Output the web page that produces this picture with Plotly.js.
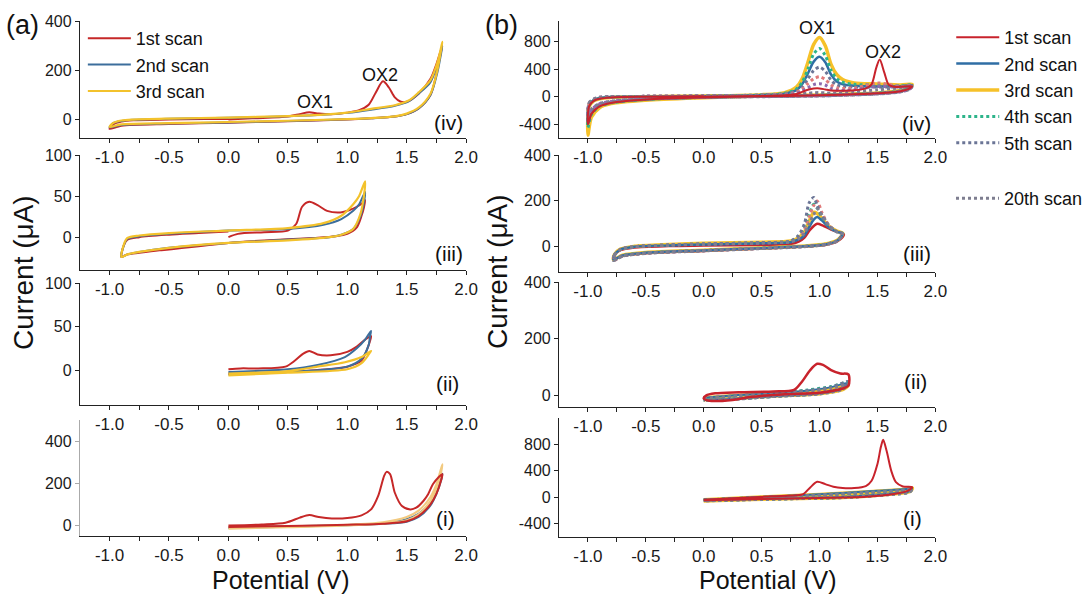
<!DOCTYPE html>
<html><head><meta charset="utf-8">
<script src="https://cdn.plot.ly/plotly-3.0.1.min.js"></script>
<style>html,body{margin:0;padding:0;background:#fff}#chart{width:1088px;height:594px}</style>
</head><body><div id="chart"></div>
<script>
// ---------- tick labels ----------
const X_TICK_VALS = [-1.0,-0.75,-0.5,-0.25,0.0,0.25,0.5,0.75,1.0,1.25,1.5,1.75,2.0];
const X_TICK_TEXT = ['-1.0','','-0.5','','0.0','','0.5','','1.0','','1.5','','2.0'];
const A4_YT = [0,200,400];           const A4_YL = ['0','200','400'];
const A3_YT = [0,50,100];            const A3_YL = ['0','50','100'];
const A2_YT = [0,50,100];            const A2_YL = ['0','50','100'];
const A1_YT = [0,200,400];           const A1_YL = ['0','200','400'];
const B4_YT = [-400,0,400,800];      const B4_YL = ['-400','0','400','800'];
const B3_YT = [0,200,400];           const B3_YL = ['0','200','400'];
const B2_YT = [0,200,400];           const B2_YL = ['0','200','400'];
const B1_YT = [-400,0,400,800];      const B1_YL = ['-400','0','400','800'];
const SCAN_NAMES = ['1st scan','2nd scan','3rd scan','4th scan','5th scan','20th scan'];

// ---------- (a)(iv) ----------
const A4_S1_X = [0.0,0.2,0.5,0.6,0.68,0.76,0.9,1.0,1.1,1.18,1.24,1.3,1.35,1.4,1.45,1.5,1.6,1.7,1.75,1.8,1.78,1.7,1.6,1.5,1.4,1.2,1.0,0.5,0.0,-0.5,-0.9,-1.0,-0.97,-0.9,-0.8,-0.5,-0.2,0.0];
const A4_S1_Y = [0,5,12,22,30,24,22,28,38,60,110,155,130,90,72,72,105,165,225,300,255,100,45,22,12,5,0,-7,-13,-18,-25,-38,-20,-8,-3,0,2,3];
const A4_LOOP_X = [-1.0,-0.97,-0.9,-0.8,-0.5,0.0,0.5,0.8,1.0,1.2,1.4,1.52,1.6,1.7,1.76,1.8,1.79,1.76,1.7,1.6,1.5,1.4,1.2,1.0,0.5,0.0,-0.5,-0.9,-1.0];
const A4_S2_Y = [-32,-15,-6,-1,3,7,13,19,27,40,56,75,105,152,225,300,270,195,100,45,22,12,5,1,-6,-12,-16,-22,-32];
const A4_S3_Y = [-30,-14,-4,0,4,8,14,20,28,43,58,78,110,160,235,315,285,205,105,48,24,13,6,2,-5,-10,-15,-20,-30];

// ---------- (a)(iii) ----------
const A3_S1_X = [0.0,0.08,0.3,0.5,0.57,0.62,0.68,0.75,0.83,0.94,1.02,1.08,1.13,1.15,1.14,1.12,1.08,1.0,0.9,0.72,0.3,0.0,-0.5,-0.58,-0.75,-0.85,-0.9,-0.88,-0.85,-0.75,-0.5,-0.25,0.0];
const A3_S1_Y = [0,4,6,8,16,37,43,39,32,30,33,37,42,45,36,26,12,4,1,-1,-4,-7,-15,-16,-19,-21,-24,-10,-3,0,3,5,7];
const A3_LOOP_X = [-0.9,-0.88,-0.85,-0.75,-0.5,0.0,0.5,0.8,0.95,1.05,1.1,1.15,1.14,1.11,1.05,0.95,0.85,0.5,0.0,-0.5,-0.75,-0.85,-0.9];
const A3_S2_Y = [-24,-10,-2,1,4,8,10,15,22,32,40,55,42,25,10,3,0,-3,-7,-13,-18,-21,-24];
const A3_S3_Y = [-24,-9,-1,2,5,8,11,17,26,40,50,68,50,28,10,3,0,-4,-7,-13,-18,-21,-24];

// ---------- (a)(ii) ----------
const A2_S1_X = [0.0,0.1,0.25,0.48,0.56,0.63,0.68,0.75,0.86,1.0,1.08,1.15,1.2,1.19,1.17,1.12,1.0,0.73,0.3,0.0];
const A2_S1_Y = [1,2,2,4,11,19,22,18,17,21,27,35,39,33,25,11,4,0,-3,-4];
const A2_S2_X = [0.0,0.5,0.75,0.98,1.08,1.15,1.2,1.19,1.18,1.12,1.0,0.5,0.0];
const A2_S2_Y = [-2,1,6,15,25,35,45,38,29,13,4,-2,-5];
const A2_S3_X = [0.0,0.5,0.75,0.98,1.12,1.2,1.19,1.18,1.12,1.0,0.5,0.0];
const A2_S3_Y = [-4,-1,4,9,15,22,20,18,8,1,-3,-6];

// ---------- (a)(i) ----------
const A1_S1_X = [0.0,0.28,0.48,0.6,0.68,0.76,0.87,1.0,1.12,1.2,1.26,1.31,1.33,1.36,1.4,1.46,1.53,1.58,1.64,1.68,1.72,1.77,1.8,1.79,1.75,1.7,1.6,1.5,1.3,1.0,0.5,0.0];
const A1_S1_Y = [0,5,13,37,49,40,33,35,48,76,140,235,254,243,155,92,76,84,116,148,195,230,243,215,150,100,45,20,8,3,-3,-7];
const A1_LOOP_X = [0.0,0.5,1.0,1.3,1.5,1.6,1.7,1.75,1.8,1.79,1.75,1.7,1.6,1.5,1.3,1.0,0.5,0.0];
const A1_S2_Y = [-8,-4,2,10,30,55,110,165,245,215,150,95,40,18,8,1,-6,-12];
const A1_S3_Y = [-10,-5,3,15,40,70,135,195,290,255,175,115,52,25,10,0,-8,-15];

// ---------- (b)(iv) ----------
const B4_S1_X = [0.0,0.5,0.7,0.8,0.85,0.9,0.95,1.0,1.05,1.1,1.2,1.3,1.4,1.45,1.49,1.52,1.56,1.6,1.67,1.8,1.78,1.7,1.5,1.2,1.0,0.5,0.0,-0.5,-0.8,-0.9,-0.97,-1.0,-0.99,-0.95,-0.9,-0.8,-0.5,0.0];
const B4_S1_Y = [0,10,20,40,70,100,118,120,105,90,88,92,120,180,420,540,350,170,140,150,120,80,50,30,20,5,-10,-40,-90,-140,-250,-400,-140,-60,-30,-10,0,5];
const B4_LOOP_X = [-1.0,-0.99,-0.95,-0.9,-0.8,-0.5,0.0,0.5,0.7,0.8,0.85,0.9,0.95,1.0,1.05,1.1,1.15,1.2,1.3,1.5,1.7,1.8,1.78,1.7,1.5,1.2,1.0,0.5,0.0,-0.5,-0.8,-0.9,-0.97,-1.0];
const B4_S2_Y = [-400,-120,-50,-20,-5,0,8,25,45,95,180,340,510,580,500,320,220,180,160,150,150,165,125,80,50,30,20,5,-10,-40,-85,-130,-240,-400];
const B4_S3_Y = [-560,-150,-60,-30,-10,0,10,30,60,140,260,500,760,860,740,470,320,250,200,185,170,180,140,90,55,35,25,10,-15,-50,-100,-160,-300,-560];
const B4_S4_Y = [-450,-130,-55,-25,-5,0,8,25,50,110,210,400,620,700,600,380,260,210,180,170,160,170,130,85,50,30,20,8,-10,-40,-90,-140,-260,-450];
const B4_S5_Y = [-380,-110,-45,-15,0,5,10,25,40,80,140,260,380,430,370,240,170,150,140,140,145,160,120,80,45,28,18,5,-8,-35,-80,-120,-220,-380];
const B4_S8_Y = [-330,-100,-40,-10,0,5,10,20,35,65,110,190,260,290,250,170,130,120,125,200,150,160,115,75,45,25,15,5,-8,-30,-70,-110,-200,-330];
const B4_S12_Y = [-310,-95,-38,-9,0,5,10,18,28,50,80,130,175,190,170,120,95,90,100,150,140,155,112,72,42,22,12,3,-9,-30,-68,-105,-190,-310];
const B4_S20_Y = [-300,-90,-35,-8,0,5,10,15,20,30,40,50,58,60,55,50,50,55,70,100,130,150,110,70,40,20,10,0,-10,-30,-65,-100,-180,-300];

// ---------- (b)(iii) ----------
const B3_S1_X = [0.0,0.5,0.75,0.82,0.87,0.92,0.98,1.03,1.1,1.18,1.21,1.2,1.15,1.05,0.9,0.5,0.0,-0.5,-0.7,-0.78,-0.77,-0.72,-0.6,-0.3,0.0];
const B3_S1_Y = [5,8,12,22,40,75,100,92,75,62,55,42,22,8,2,-8,-18,-28,-40,-55,-35,-15,-3,3,5];
const B3_LOOP_X = [-0.78,-0.77,-0.72,-0.6,-0.3,0.0,0.5,0.75,0.82,0.87,0.91,0.95,0.98,1.02,1.08,1.15,1.2,1.19,1.15,1.05,0.9,0.5,0.0,-0.5,-0.7,-0.78];
const B3_S2_Y = [-55,-35,-12,0,6,10,15,20,32,50,85,118,130,115,85,65,58,45,25,10,3,-6,-16,-26,-38,-55];
const B3_S3_Y = [-55,-33,-10,2,10,15,20,25,40,65,110,150,145,125,90,68,60,47,27,12,4,-5,-15,-25,-37,-55];
const B3_S4_Y = [-58,-35,-12,0,8,12,18,24,45,80,140,185,170,130,90,66,58,46,26,11,3,-6,-16,-27,-39,-58];
const B3_S5_Y = [-58,-36,-12,0,8,12,18,25,50,100,190,215,180,135,90,65,57,45,25,10,2,-7,-17,-28,-40,-58];
const B3_S8_Y = [-60,-36,-12,0,8,12,18,24,40,75,130,180,200,150,95,65,57,45,25,10,2,-7,-17,-28,-40,-60];
const B3_S20_Y = [-60,-37,-13,0,7,11,16,22,35,60,100,140,165,140,95,65,56,44,24,9,1,-8,-18,-29,-41,-60];

// ---------- (b)(ii) ----------
const B2_S1_X = [0.02,0.1,0.3,0.6,0.78,0.85,0.92,0.98,1.03,1.1,1.18,1.25,1.25,1.2,1.0,0.7,0.4,0.25,0.05,0.0,0.02];
const B2_S1_Y = [0,8,12,15,20,50,90,112,108,90,78,75,35,25,10,5,-5,-15,-18,-10,0];
const B2_LOOP_X = [0.0,0.3,0.6,0.9,1.1,1.25,1.2,1.0,0.6,0.3,0.0];
const B2_S2_Y = [-8,2,8,18,30,45,25,8,-2,-10,-15];
const B2_S3_Y = [-8,2,8,15,25,35,20,6,-2,-10,-15];
const B2_S4_Y = [-10,0,8,20,32,48,27,8,-3,-11,-16];
const B2_S5_Y = [-10,0,8,18,30,50,28,8,-3,-11,-17];
const B2_S20_Y = [-10,0,6,15,25,40,22,6,-3,-12,-17];

// ---------- (b)(i) ----------
const B1_S1_X = [0.0,0.3,0.6,0.8,0.86,0.92,0.98,1.05,1.12,1.2,1.3,1.4,1.45,1.5,1.53,1.55,1.58,1.62,1.66,1.72,1.8,1.79,1.75,1.6,1.4,1.0,0.5,0.0];
const B1_S1_Y = [-35,-10,15,30,50,150,235,200,160,140,140,170,250,500,760,870,700,400,230,165,155,130,90,40,10,-10,-25,-45];
const B1_LOOP_X = [0.0,0.5,1.0,1.5,1.75,1.8,1.78,1.6,1.2,0.8,0.4,0.0];
const B1_S2_Y = [-35,5,45,100,125,145,95,55,5,-15,-30,-45];
const B1_S3_Y = [-40,0,40,90,120,140,90,50,0,-15,-30,-50];
const B1_S4_Y = [-40,0,35,85,115,135,85,45,0,-18,-32,-50];
const B1_S5_Y = [-42,-2,35,85,115,135,85,45,-2,-18,-33,-52];
const B1_S20_Y = [-44,-4,32,80,110,130,80,40,-4,-20,-35,-54];

// ---------- styling ----------
const FONT = "Arial, 'Liberation Sans', sans-serif";
const W = 1088, H = 594;
const CA = {red:'#C62828', blue:'#3C6E9C', yel:'#F3C22C', tan:'#F2CA80'};
const CB = {red:'#C8232C', blue:'#2F6EA5', yel:'#F6C129', green:'#2DB48A', grey:'#6B7596', pink:'#E07A7A', purple:'#8E6BAE', g20:'#7E7E90'};

function hx(a,b){return [a/W,b/W];}
function vy(top,bot){return [1-bot/H,1-top/H];}

const traces = [];
function add(xa, ya, x, y, color, width, dash, opts){
  const t = {type:'scatter', mode:'lines', x:x, y:y, xaxis:xa, yaxis:ya,
    line:{color:color, width:width, dash:dash||'solid', shape:'spline', smoothing:0.8},
    showlegend:false, hoverinfo:'skip'};
  Object.assign(t, opts||{});
  traces.push(t);
}
// (a) panels
add('x','y',A4_S1_X,A4_S1_Y,CA.red,2,null,{name:SCAN_NAMES[0],showlegend:true,legend:'legend',legendrank:1});
add('x','y',A4_LOOP_X,A4_S2_Y,CA.blue,2,null,{name:SCAN_NAMES[1],showlegend:true,legend:'legend',legendrank:2});
add('x','y',A4_LOOP_X,A4_S3_Y,CA.yel,2.2,null,{name:SCAN_NAMES[2],showlegend:true,legend:'legend',legendrank:3});
add('x2','y2',A3_S1_X,A3_S1_Y,CA.red,2);
add('x2','y2',A3_LOOP_X,A3_S2_Y,CA.blue,2);
add('x2','y2',A3_LOOP_X,A3_S3_Y,CA.yel,2.2);
add('x3','y3',A2_S1_X,A2_S1_Y,CA.red,2);
add('x3','y3',A2_S2_X,A2_S2_Y,CA.blue,2);
add('x3','y3',A2_S3_X,A2_S3_Y,CA.yel,2.2);
add('x4','y4',A1_LOOP_X,A1_S2_Y,CA.blue,2);
add('x4','y4',A1_LOOP_X,A1_S3_Y,CA.tan,2.2);
add('x4','y4',A1_S1_X,A1_S1_Y,CA.red,2);
// (b)(iv)
add('x5','y5',B4_LOOP_X,B4_S3_Y,CB.yel,3.5,null,{name:SCAN_NAMES[2],showlegend:true,legend:'legend2',legendrank:3});
add('x5','y5',B4_LOOP_X,B4_S2_Y,CB.blue,2.5,null,{name:SCAN_NAMES[1],showlegend:true,legend:'legend2',legendrank:2});
add('x5','y5',B4_LOOP_X,B4_S4_Y,CB.green,3,'dot',{name:SCAN_NAMES[3],showlegend:true,legend:'legend2',legendrank:4});
add('x5','y5',B4_LOOP_X,B4_S5_Y,CB.grey,3,'dot',{name:SCAN_NAMES[4],showlegend:true,legend:'legend2',legendrank:5});
add('x5','y5',B4_LOOP_X,B4_S8_Y,CB.pink,3,'dot');
add('x5','y5',B4_LOOP_X,B4_S12_Y,CB.purple,3,'dot');
add('x5','y5',B4_LOOP_X,B4_S20_Y,CB.g20,3,'dot',{name:SCAN_NAMES[5],showlegend:true,legend:'legend3',legendrank:6});
add('x5','y5',B4_S1_X,B4_S1_Y,CB.red,2,null,{name:SCAN_NAMES[0],showlegend:true,legend:'legend2',legendrank:1});
// (b)(iii)
add('x6','y6',B3_S1_X,B3_S1_Y,CB.red,2.5);
add('x6','y6',B3_LOOP_X,B3_S3_Y,CB.yel,3.5);
add('x6','y6',B3_LOOP_X,B3_S2_Y,CB.blue,2.5);
add('x6','y6',B3_LOOP_X,B3_S4_Y,CB.green,3,'dot');
add('x6','y6',B3_LOOP_X,B3_S8_Y,CB.pink,3,'dot');
add('x6','y6',B3_LOOP_X,B3_S5_Y,CB.grey,3,'dot');
add('x6','y6',B3_LOOP_X,B3_S20_Y,CB.g20,3,'dot');
// (b)(ii)
add('x7','y7',B2_LOOP_X,B2_S3_Y,CB.yel,3);
add('x7','y7',B2_LOOP_X,B2_S2_Y,CB.blue,2);
add('x7','y7',B2_LOOP_X,B2_S4_Y,CB.green,3,'dot');
add('x7','y7',B2_LOOP_X,B2_S5_Y,CB.grey,3,'dot');
add('x7','y7',B2_LOOP_X,B2_S20_Y,CB.g20,3,'dot');
add('x7','y7',B2_S1_X,B2_S1_Y,CB.red,2.5);
// (b)(i)
add('x8','y8',B1_LOOP_X,B1_S3_Y,CB.yel,4);
add('x8','y8',B1_LOOP_X,B1_S2_Y,CB.blue,2);
add('x8','y8',B1_LOOP_X,B1_S4_Y,CB.green,3,'dot');
add('x8','y8',B1_LOOP_X,B1_S5_Y,CB.grey,3,'dot');
add('x8','y8',B1_LOOP_X,B1_S20_Y,CB.g20,3,'dot');
add('x8','y8',B1_S1_X,B1_S1_Y,CB.red,2);

function xax(dom, anchor){
  return {domain:dom, anchor:anchor, range:[-1.25,2.0], tickmode:'array', tickvals:X_TICK_VALS, ticktext:X_TICK_TEXT,
    ticks:'outside', ticklen:4, tickcolor:'#222', showline:true, linecolor:'#222', linewidth:1,
    showgrid:false, zeroline:false, tickfont:{family:FONT,size:17,color:'#1a1a1a'}, fixedrange:true};
}
function yax(dom, anchor, range, tv, tt, lc){
  return {domain:dom, anchor:anchor, range:range, tickmode:'array', tickvals:tv, ticktext:tt,
    ticks:'outside', ticklen:4, tickcolor:lc||'#222', showline:true, linecolor:lc||'#222', linewidth:1,
    showgrid:false, zeroline:false, tickfont:{family:FONT,size:16,color:'#1a1a1a'}, fixedrange:true};
}
const DA = hx(80,467), DB = hx(560,937);

function ann(text, xp, yp, size, opts){
  return Object.assign({text:text, xref:'paper', yref:'paper', x:xp/W, y:1-yp/H, showarrow:false,
    font:{family:FONT, size:size, color:'#111'}, xanchor:'center', yanchor:'middle'}, opts||{});
}
const annotations = [
  ann('(a)',23,25,27), ann('(b)',502,25,27),
  ann('OX1',316,102,18), ann('OX2',381,75,18),
  ann('OX1',819,28,18), ann('OX2',885,52,18),
  ann('(iv)',466,122,21,{xanchor:'right'}), ann('(iii)',466,253,21,{xanchor:'right'}),
  ann('(ii)',462,383,21,{xanchor:'right'}), ann('(i)',458,518,21,{xanchor:'right'}),
  ann('(iv)',935,123,21,{xanchor:'right'}), ann('(iii)',935,253,21,{xanchor:'right'}),
  ann('(ii)',931,381,21,{xanchor:'right'}), ann('(i)',926,518,21,{xanchor:'right'}),
  ann('Current (\u03bcA)',23,272,28,{textangle:-90}), ann('Current (\u03bcA)',498,272,28,{textangle:-90}),
  ann('Potential (V)',282,580,25), ann('Potential (V)',769,580,25)
];

const legFont = {family:FONT, size:18, color:'#111'};
const layout = {
  width:W, height:H, margin:{l:0,r:0,t:0,b:0}, paper_bgcolor:'#fff', plot_bgcolor:'rgba(0,0,0,0)',
  showlegend:true,
  legend:{x:83/W, y:1-20/H, xanchor:'left', yanchor:'top', bgcolor:'rgba(0,0,0,0)', font:legFont, itemwidth:43, tracegroupgap:0},
  legend2:{x:953/W, y:1-19/H, xanchor:'left', yanchor:'top', bgcolor:'rgba(0,0,0,0)', font:legFont, itemwidth:43, tracegroupgap:0},
  legend3:{x:953/W, y:1-180/H, xanchor:'left', yanchor:'top', bgcolor:'rgba(0,0,0,0)', font:legFont, itemwidth:43},
  xaxis: xax(DA,'y'),  yaxis: yax(vy(21,138),'x',[-75,400],A4_YT,A4_YL),
  xaxis2:xax(DA,'y2'), yaxis2:yax(vy(155,270),'x2',[-40,100],A3_YT,A3_YL),
  xaxis3:xax(DA,'y3'), yaxis3:yax(vy(283,405),'x3',[-40,100],A2_YT,A2_YL),
  xaxis4:xax(DA,'y4'), yaxis4:yax(vy(420,536),'x4',[-50,500],A1_YT,A1_YL,'#aaa'),
  xaxis5:xax(DB,'y5'), yaxis5:yax(vy(21,138),'x5',[-600,1100],B4_YT,B4_YL),
  xaxis6:xax(DB,'y6'), yaxis6:yax(vy(155,272),'x6',[-110,400],B3_YT,B3_YL),
  xaxis7:xax(DB,'y7'), yaxis7:yax(vy(282,407),'x7',[-40,400],B2_YT,B2_YL),
  xaxis8:xax(DB,'y8'), yaxis8:yax(vy(418,537),'x8',[-600,1200],B1_YT,B1_YL),
  annotations:annotations
};
Plotly.newPlot('chart', traces, layout, {staticPlot:true, displayModeBar:false});
</script></body></html>
